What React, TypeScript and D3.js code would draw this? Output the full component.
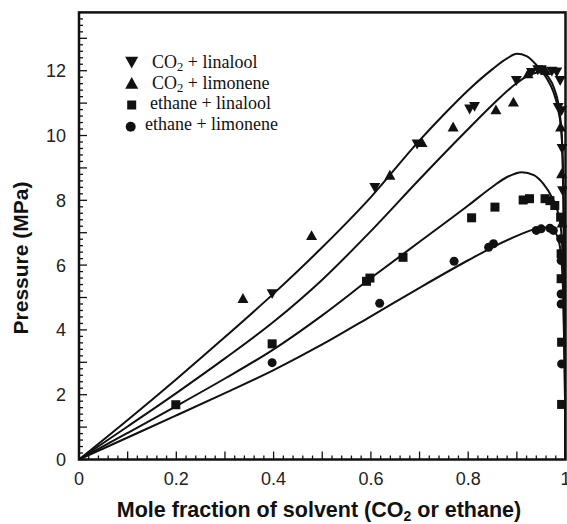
import React from 'react';
import * as d3 from 'd3';

type P = [number, number];

// Model curves (phase envelopes)
const curveA: P[] = [[0,0],[0.1,1.22],[0.2,2.48],[0.3,3.78],[0.4,5.12],[0.5,6.55],[0.6,8.1],[0.7,9.85],[0.75,10.65],[0.8,11.4],[0.85,12.05],[0.88,12.38],[0.9,12.52],[0.92,12.45],[0.94,12.18],[0.96,11.8],[0.975,11.35],[0.985,10.8],[0.992,10.0],[0.996,8.0],[0.998,5.0],[0.9995,2.0],[1,0]];
const curveB: P[] = [[0,0],[0.1,1.02],[0.2,2.05],[0.3,3.12],[0.4,4.25],[0.5,5.55],[0.6,7.05],[0.7,8.65],[0.8,10.2],[0.85,10.95],[0.9,11.62],[0.93,11.9],[0.95,11.95],[0.965,11.8],[0.978,11.4],[0.988,10.7],[0.993,9.8],[0.996,7.5],[0.998,4.5],[0.9995,2.0],[1,0]];
const curveC: P[] = [[0,0],[0.1,0.82],[0.2,1.65],[0.3,2.5],[0.4,3.4],[0.5,4.45],[0.6,5.6],[0.7,6.72],[0.8,7.84],[0.85,8.42],[0.88,8.72],[0.91,8.87],[0.935,8.78],[0.955,8.5],[0.972,8.1],[0.985,7.6],[0.992,6.9],[0.996,5.0],[0.998,3.0],[0.9995,1.2],[1,0]];
const curveD: P[] = [[0,0],[0.1,0.68],[0.2,1.36],[0.3,2.05],[0.4,2.76],[0.5,3.55],[0.6,4.42],[0.7,5.3],[0.8,6.15],[0.85,6.55],[0.9,6.9],[0.93,7.08],[0.955,7.17],[0.972,7.1],[0.983,6.9],[0.99,6.4],[0.995,5.2],[0.998,3.0],[0.9995,1.2],[1,0]];

// Experimental data
const co2Linalool: P[] = [[0.397,5.12],[0.608,8.4],[0.695,9.74],[0.803,10.82],[0.813,10.9],[0.899,11.7],[0.93,11.95],[0.943,12.03],[0.95,12.03],[0.972,11.99],[0.982,11.96],[0.989,11.7],[0.985,10.87],[0.992,10.77],[0.993,9.6],[0.994,8.3]];
const co2Limonene: P[] = [[0.337,4.97],[0.478,6.91],[0.639,8.77],[0.705,9.78],[0.769,10.26],[0.857,10.79],[0.893,11.03],[0.923,11.9],[0.959,12.0],[0.99,10.26],[0.992,8.82],[0.993,7.3]];
const ethLinalool: P[] = [[0.199,1.69],[0.397,3.57],[0.591,5.5],[0.598,5.6],[0.666,6.24],[0.807,7.46],[0.855,7.79],[0.913,8.01],[0.926,8.05],[0.958,8.05],[0.968,7.99],[0.978,7.84],[0.99,7.48],[0.991,6.35],[0.991,5.58],[0.992,3.62],[0.992,1.7]];
const ethLimonene: P[] = [[0.397,2.99],[0.618,4.82],[0.771,6.12],[0.842,6.55],[0.852,6.66],[0.94,7.07],[0.95,7.12],[0.968,7.14],[0.975,7.07],[0.99,6.81],[0.991,6.14],[0.991,5.11],[0.991,4.8],[0.992,2.95]];

const xTickLabels = [0, 0.2, 0.4, 0.6, 0.8, 1];
const yTickLabels = [0, 2, 4, 6, 8, 10, 12];

const triDown = (cx: number, cy: number, s: number) =>
  `M${cx - s / 2},${cy - s * 0.4}L${cx + s / 2},${cy - s * 0.4}L${cx},${cy + s * 0.5}Z`;
const triUp = (cx: number, cy: number, s: number) =>
  `M${cx - s / 2},${cy + s * 0.4}L${cx + s / 2},${cy + s * 0.4}L${cx},${cy - s * 0.5}Z`;

export default function App() {
  const x = d3.scaleLinear().domain([0, 1]).range([79, 565.5]);
  const y = d3.scaleLinear().domain([0, 13.8]).range([459.5, 12.4]);
  const line = d3.line<P>().x(d => x(d[0])).y(d => y(d[1])).curve(d3.curveMonotoneX);

  const xMinor = d3.range(0, 51).map(i => i * 0.02);
  const yMinor = d3.range(0, 69).map(i => i * 0.2);
  const sans = "'Liberation Sans', Arial, Helvetica, sans-serif";
  const serif = "'Liberation Serif', 'Times New Roman', serif";
  const ink = '#111';

  return (
    <svg width={567} height={524} style={{ position: 'absolute', left: 0, top: 0, background: '#fff' }}>
      <defs>
        <clipPath id="plot">
          <rect x={79} y={12.4} width={486.5} height={447.1} />
        </clipPath>
      </defs>
      <rect width={567} height={524} fill="#fff" />

      {/* ticks */}
      {xMinor.map((v, i) => {
        const major = i % 5 === 0;
        return <line key={'xt' + i} x1={x(v)} x2={x(v)} y1={y(0)} y2={y(0) - (major ? 8 : 4)} stroke={ink} strokeWidth={1.3} />;
      })}
      {yMinor.map((v, i) => {
        const major = i % 5 === 0;
        return <line key={'yt' + i} x1={x(0)} x2={x(0) + (major ? 8 : 4)} y1={y(v)} y2={y(v)} stroke={ink} strokeWidth={1.3} />;
      })}

      {/* curves */}
      <g clipPath="url(#plot)" fill="none" stroke={ink} strokeWidth={2}>
        {[curveA, curveB, curveC, curveD].map((c, i) => <path key={'c' + i} d={line(c) || ''} />)}
      </g>

      {/* data */}
      <g fill={ink}>
        {co2Linalool.map((d, i) => <path key={'a' + i} d={triDown(x(d[0]), y(d[1]), 11)} />)}
        {co2Limonene.map((d, i) => <path key={'b' + i} d={triUp(x(d[0]), y(d[1]), 11)} />)}
        {ethLinalool.map((d, i) => <rect key={'s' + i} x={x(d[0]) - 4.5} y={y(d[1]) - 4.5} width={9} height={9} />)}
        {ethLimonene.map((d, i) => <circle key={'o' + i} cx={x(d[0])} cy={y(d[1])} r={4.5} />)}
      </g>

      {/* frame */}
      <rect x={79} y={12.4} width={486.5} height={447.1} fill="none" stroke={ink} strokeWidth={2.5} />

      {/* tick labels */}
      {xTickLabels.map(v => (
        <text key={'xl' + v} x={x(v)} y={485} textAnchor="middle" fontFamily={sans} fontSize={18} fill="#222">{String(v)}</text>
      ))}
      {yTickLabels.map(v => (
        <text key={'yl' + v} x={66} y={y(v) + 6.5} textAnchor="end" fontFamily={sans} fontSize={18} fill="#222">{String(v)}</text>
      ))}

      {/* axis titles */}
      <text x={319} y={517} textAnchor="middle" fontFamily={sans} fontSize={21.5} fontWeight="bold" fill={ink}>
        Mole fraction of solvent (CO<tspan fontSize={14} dy={4}>2</tspan><tspan dy={-4}> or ethane)</tspan>
      </text>
      <text transform="translate(28,258) rotate(-90)" textAnchor="middle" fontFamily={sans} fontSize={21} fontWeight="bold" fill={ink}>
        Pressure (MPa)
      </text>

      {/* legend */}
      <g fill={ink}>
        <path d={triDown(131.7, 62, 13)} />
        <path d={triUp(131.7, 83.5, 13)} />
        <rect x={127.2} y={100.5} width={9} height={9} />
        <circle cx={130.7} cy={126.7} r={5} />
      </g>
      <g fontFamily={serif} fontSize={18} fill={ink}>
        <text x={152} y={68}>CO<tspan fontSize={12.5} dy={3}>2</tspan><tspan dy={-3}> + linalool</tspan></text>
        <text x={152} y={88.5}>CO<tspan fontSize={12.5} dy={3}>2</tspan><tspan dy={-3}> + limonene</tspan></text>
        <text x={150} y={109}>ethane + linalool</text>
        <text x={145} y={130}>ethane + limonene</text>
      </g>
    </svg>
  );
}
